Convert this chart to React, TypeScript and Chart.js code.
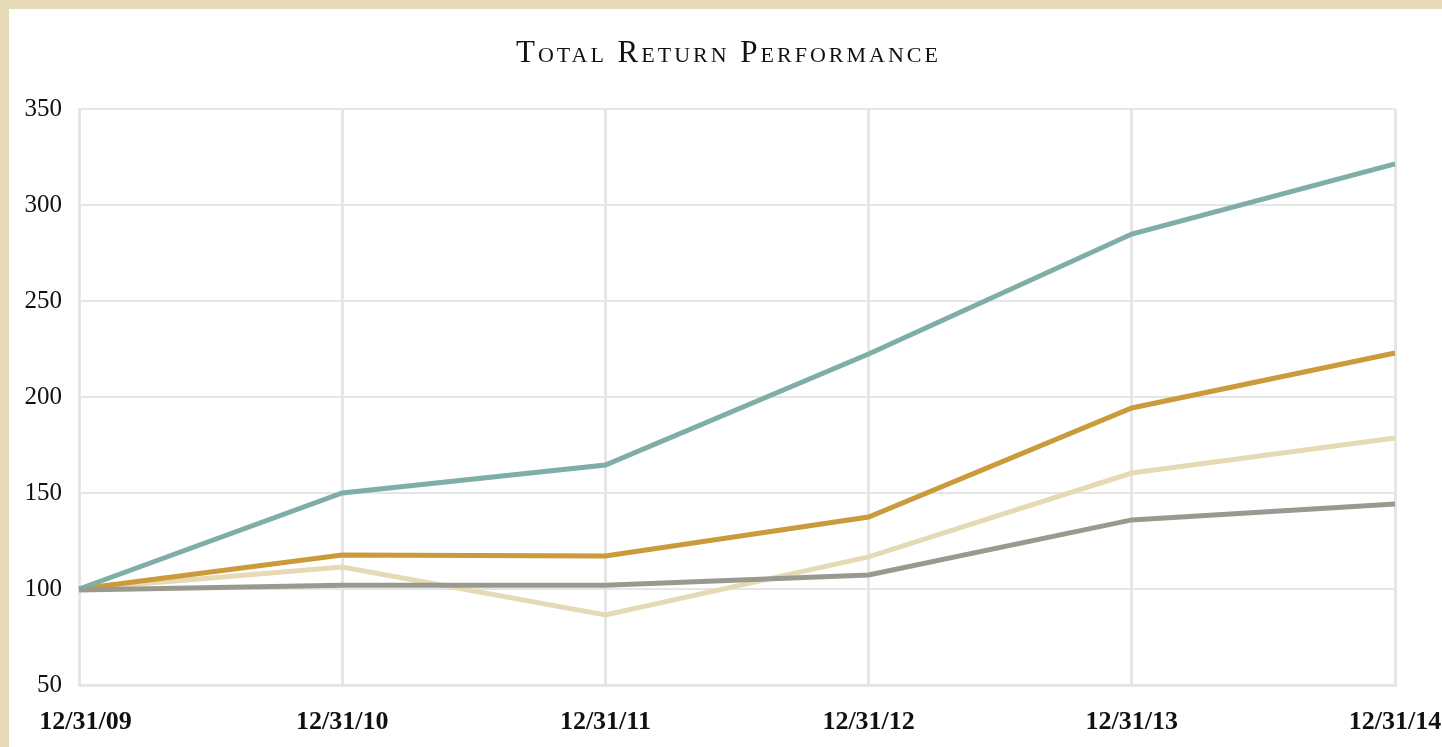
import React, { useEffect, useRef } from "react";
import { Chart, registerables } from "chart.js";

Chart.register(...registerables);

const categories = ["12/31/09", "12/31/10", "12/31/11", "12/31/12", "12/31/13", "12/31/14"];
const tealSeries = [100, 150, 164.6, 222.4, 284.9, 321.4];
const goldSeries = [100, 117.7, 117.2, 137.5, 194.3, 222.9];
const beigeSeries = [100, 111.5, 86.5, 116.7, 160.4, 178.6];
const graySeries = [99.5, 102, 102, 107.3, 136, 144.3];
const yTicks = [50, 100, 150, 200, 250, 300, 350];

const CANVAS_W = 1480;
const CANVAS_H = 747;

export default function App() {
  const ref = useRef<HTMLCanvasElement | null>(null);

  useEffect(() => {
    document.body.style.margin = "0";
    document.body.style.overflow = "hidden";
    const canvas = ref.current;
    if (!canvas) return;
    const chart = new Chart(canvas, {
      type: "line",
      data: {
        labels: categories,
        datasets: [
          { label: "gray", data: graySeries, borderColor: "#999a8f" },
          { label: "teal", data: tealSeries, borderColor: "#7eaea6" },
          { label: "gold", data: goldSeries, borderColor: "#cb9a3b" },
          { label: "beige", data: beigeSeries, borderColor: "#e6dab5" },
        ].map((d) => ({
          ...d,
          borderWidth: 5,
          pointRadius: 0,
          pointHoverRadius: 0,
          tension: 0,
          fill: false,
        })),
      },
      options: {
        responsive: false,
        animation: false,
        devicePixelRatio: 1,
        layout: { padding: { left: 0, right: CANVAS_W - 1395, top: 109, bottom: 12 } },
        plugins: {
          legend: { display: false },
          title: { display: false },
          tooltip: { enabled: false },
        },
        scales: {
          x: {
            offset: false,
            grid: { color: "#e6e6e6", lineWidth: 3, drawTicks: false },
            border: { color: "#e6e6e6", width: 3 },
            ticks: {
              padding: 22,
              maxRotation: 0,
              autoSkip: false,
              color: "#111",
              font: { family: "'Liberation Serif', serif", size: 26, weight: "bold" },
              callback: (_v: any, i: number) =>
                i === 0 ? "\u00a0\u00a0" + categories[i] : categories[i],
            },
            afterFit: (scale: any) => {
              scale.height = 50;
              scale.paddingLeft = 0;
              scale.paddingRight = 0;
            },
          },
          y: {
            min: 50,
            max: 350,
            afterBuildTicks: (scale: any) => {
              scale.ticks = yTicks.map((v) => ({ value: v }));
            },
            grid: { color: "#e6e6e6", lineWidth: 2, drawTicks: false },
            border: { color: "#e6e6e6", width: 3 },
            ticks: {
              padding: 17,
              color: "#111",
              font: { family: "'Liberation Serif', serif", size: 25 },
            },
            afterFit: (scale: any) => {
              scale.width = 79;
            },
          },
        },
      },
    });
    return () => chart.destroy();
  }, []);

  return (
    <div style={{ position: "relative", width: 1442, height: 747, overflow: "hidden", background: "#fff" }}>
      <canvas
        ref={ref}
        width={CANVAS_W}
        height={CANVAS_H}
        style={{ position: "absolute", left: 0, top: 0, width: CANVAS_W, height: CANVAS_H }}
      />
      <div
        style={{
          position: "absolute",
          top: 38,
          left: 0,
          width: 1457,
          textAlign: "center",
          fontFamily: "'Liberation Serif', serif",
          fontVariant: "small-caps",
          fontSize: 31,
          letterSpacing: "3px",
          lineHeight: "28px",
          color: "#111",
          whiteSpace: "nowrap",
        }}
      >
        Total Return Performance
      </div>
      <div style={{ position: "absolute", left: 0, top: 0, width: "100%", height: 9, background: "#e5dcb7" }} />
      <div style={{ position: "absolute", left: 0, top: 0, width: 9, height: "100%", background: "#e5dcb7" }} />
    </div>
  );
}
